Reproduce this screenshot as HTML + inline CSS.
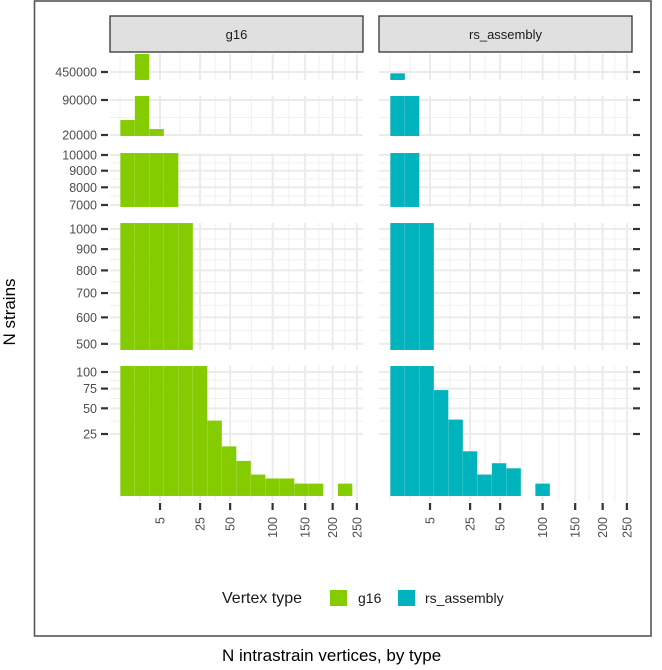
<!DOCTYPE html>
<html><head><meta charset="utf-8"><style>
body{margin:0;background:#fff;}
svg{display:block;font-family:"Liberation Sans",sans-serif;}
</style></head><body>
<svg id="chart" width="662" height="670" viewBox="0 0 662 670" xmlns="http://www.w3.org/2000/svg">
<rect x="34.5" y="1" width="616.5" height="635" fill="none" stroke="#555" stroke-width="1.6"/>
<g id="grid"></g><g id="bars"></g><g id="axes"></g>
<rect x="110" y="16" width="253" height="36" fill="#e0e0e0" stroke="#333" stroke-width="1.3"/>
<text x="236.5" y="39" text-anchor="middle" font-size="13" fill="#1a1a1a">g16</text>
<rect x="379" y="16" width="253" height="36" fill="#e0e0e0" stroke="#333" stroke-width="1.3"/>
<text x="505.5" y="39" text-anchor="middle" font-size="13" fill="#1a1a1a">rs_assembly</text>
<g>
<text x="222" y="603" font-size="16" fill="#1a1a1a">Vertex type</text>
<rect x="330" y="590" width="17" height="16" fill="#84cc00"/>
<text x="358" y="603" font-size="14" fill="#1a1a1a">g16</text>
<rect x="398" y="590" width="17" height="16" fill="#00b3bc"/>
<text x="425" y="603" font-size="14" fill="#1a1a1a">rs_assembly</text>
</g>
<text x="222" y="661" font-size="17" fill="#000">N intrastrain vertices, by type</text>
<text transform="translate(15,312) rotate(-90)" text-anchor="middle" font-size="17" fill="#000">N strains</text>
</svg>
<script>
const binIndex=[0,1,2,3,4,5,6,7,8,9,10,11,12,13,14,15];
const g16Counts=[43850,570000,28400,12000,3000,300,37,16,8,3,2,2,1,1,0,1];
const rsCounts=[442000,200000,2000,73,38,13,3,7,5,0,1,0,0,0,0,0];
const xTickLabels=[5,25,50,100,150,200,250];
const band1Ticks=[450000];
const band2Ticks=[90000,20000];
const band3Ticks=[10000,9000,8000,7000];
const band4Ticks=[1000,900,800,700,600,500];
const band5Ticks=[100,75,50,25];

const NS='http://www.w3.org/2000/svg';
function mk(tag,attrs,parent){const e=document.createElementNS(NS,tag);for(const k in attrs)e.setAttribute(k,attrs[k]);parent.appendChild(e);return e;}
const bands=[
 {top:54,bottom:80,refV:450000,refY:72,k:0.22,ticks:band1Ticks},
 {top:96,bottom:136,refV:90000,refY:100,k:0.2207,ticks:band2Ticks},
 {top:153,bottom:207,refV:10000,refY:155,k:3.06,ticks:band3Ticks},
 {top:223,bottom:350,refV:1000,refY:229,k:12.4,ticks:band4Ticks},
 {top:366,bottom:496,refV:0,refY:496,k:12.4,ticks:band5Ticks}
];
function yRaw(b,v){return b.refY+(Math.sqrt(b.refV)-Math.sqrt(v))*b.k;}
const panels=[{x0:127.6,left:110,right:363,data:g16Counts,color:'#84cc00',name:'g16'},
              {x0:397.6,left:379,right:632,data:rsCounts,color:'#00b3bc',name:'rs-assembly'}];
function xs(p,s){return p.x0+14.5*s;}
const grid=document.getElementById('grid'),bars=document.getElementById('bars'),axes=document.getElementById('axes');
panels.forEach((p,pi)=>{
  const major=xTickLabels.map(v=>Math.sqrt(v));
  const minor=[-0.52,0.86];
  for(let i=0;i<major.length-1;i++)minor.push((major[i]+major[i+1])/2);
  bands.forEach((b,bi)=>{
    const vb=bi===4?b.bottom+5:b.bottom;
    minor.forEach(s=>{const l=mk('line',{x1:xs(p,s),x2:xs(p,s),y1:b.top,y2:vb,stroke:'#f0f0f0','stroke-width':1},grid);
      });
    major.forEach(s=>{const l=mk('line',{x1:xs(p,s),x2:xs(p,s),y1:b.top,y2:vb,stroke:'#ebebeb','stroke-width':2},grid);
      });
    const ty=b.ticks.map(t=>yRaw(b,t));
    for(let i=0;i<ty.length-1;i++){const y=(ty[i]+ty[i+1])/2;
      const l=mk('line',{x1:p.left,x2:p.right,y1:y,y2:y,stroke:'#f0f0f0','stroke-width':1},grid);
      }
    ty.forEach((y,ti)=>{
      const l=mk('line',{x1:p.left,x2:p.right,y1:y,y2:y,stroke:'#ebebeb','stroke-width':2},grid);
      
      const tx=pi===0?101:633;
      const tk=mk('line',{x1:tx,x2:tx+7,y1:y,y2:y,stroke:'#333','stroke-width':2.2},axes);
      
      if(pi===0){const t=mk('text',{x:97,y:y+4.5,'text-anchor':'end','font-size':12.5,fill:'#4d4d4d'},axes);
        t.textContent=b.ticks[ti];
        }
    });
    binIndex.forEach(i=>{
      const v=p.data[i]; if(v<=0)return;
      let yt=yRaw(b,v); if(yt>=b.bottom)return;
      yt=Math.max(yt,b.top);
      const x1=xs(p,i-0.5),x2=xs(p,i+0.5);
      const r=mk('rect',{x:x1,y:yt,width:x2-x1,height:b.bottom-yt,fill:p.color,stroke:'rgba(255,255,255,0.12)','stroke-width':0.5},bars);
      
      
    });
  });
  xTickLabels.forEach(v=>{
    const x=xs(p,Math.sqrt(v));
    const tk=mk('line',{x1:x,x2:x,y1:503,y2:510,stroke:'#333','stroke-width':2.2},axes);
    
    const t=mk('text',{transform:`translate(${x+4.5},517) rotate(-90)`,'text-anchor':'end','font-size':12.5,fill:'#4d4d4d'},axes);
    t.textContent=v;
    
  });
});
</script>
</body></html>
